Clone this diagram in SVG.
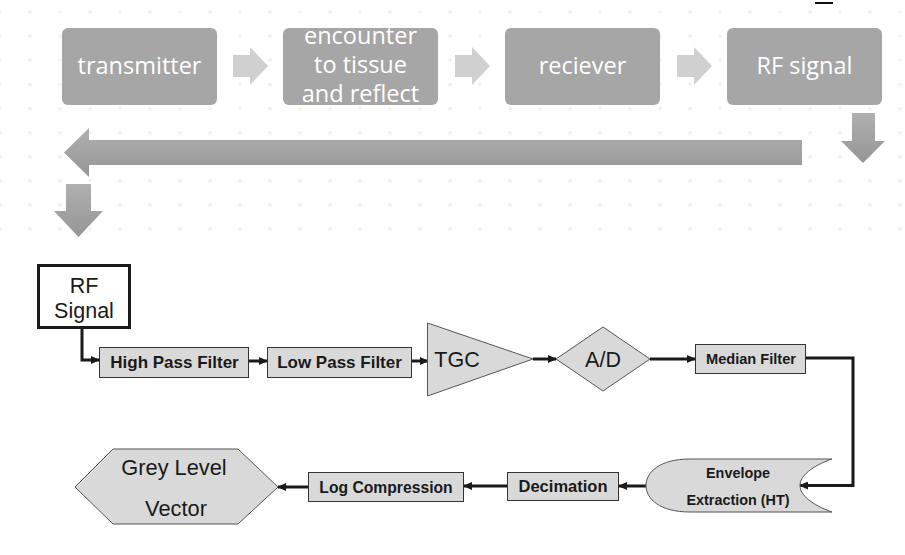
<svg xmlns="http://www.w3.org/2000/svg" width="905" height="555" viewBox="0 0 905 555">
<style>
.tbox{fill:#a6a6a6}
.ttxt{font-family:"Open Sans","Noto Sans",sans-serif;font-size:23.5px;fill:#ffffff;text-anchor:middle}
.chev{fill:#d0d0d0}
.big{fill:url(#gArrow)}
.box{fill:#d9d9d9;stroke:#333;stroke-width:1}
.btxt{font-family:"Liberation Sans",Arial,sans-serif;font-weight:bold;fill:#1a1a1a;text-anchor:middle}
.rtxt{font-family:"Liberation Sans",Arial,sans-serif;fill:#1a1a1a;text-anchor:middle}
.shape{fill:#d9d9d9;stroke:#555;stroke-width:1}
.conn{fill:none;stroke:#1a1a1a;stroke-width:3;marker-end:url(#ah)}
</style>
<defs>
<pattern id="dots" patternUnits="userSpaceOnUse" x="-15" y="0" width="30" height="24.1">
<circle cx="15" cy="12" r="1.8" fill="#f1f1e9"/>
</pattern>
<linearGradient id="gArrow" x1="0" y1="0" x2="0" y2="1">
<stop offset="0" stop-color="#b0b0b0"/>
<stop offset="1" stop-color="#959595"/>
</linearGradient>
<marker id="ah" markerUnits="userSpaceOnUse" markerWidth="9" markerHeight="8" refX="8" refY="4" orient="auto">
<path d="M0,0 L9,4 L0,8 Z" fill="#1a1a1a"/>
</marker>
</defs>
<rect x="0" y="0" width="905" height="555" fill="#ffffff"/>
<rect x="0" y="0" width="905" height="240" fill="url(#dots)"/>
<rect x="815" y="2" width="18" height="2" fill="#111"/>

<g id="top-arrows">
<path class="chev" d="M233,55 H250 V47 L268,66 L250,85 V77 H233 Z"/>
<path class="chev" d="M455,55 H472 V47 L490,66 L472,85 V77 H455 Z"/>
<path class="chev" d="M677,55 H694 V47 L712,66 L694,85 V77 H677 Z"/>
<path class="big" d="M852,113 H875 V141 H885 L863,163 L841,141 H852 Z"/>
<path class="big" d="M802,140 V165 H89 V177 L64,152.5 L89,128 V140 Z"/>
<path class="big" d="M66,184 H91 V211 H103 L78.5,237 L54,211 H66 Z"/>
</g>

<g id="n-transmitter">
<rect class="tbox" x="62" y="28" width="155" height="77" rx="6"/>
<text class="ttxt" x="139.5" y="74">transmitter</text>
</g>
<g id="n-encounter">
<rect class="tbox" x="283" y="28" width="155" height="77" rx="6"/>
<text class="ttxt" x="360.5" y="44" font-size="23">encounter</text>
<text class="ttxt" x="360.5" y="73" font-size="23">to tissue</text>
<text class="ttxt" x="360.5" y="102" font-size="23">and reflect</text>
</g>
<g id="n-reciever">
<rect class="tbox" x="505" y="28" width="155" height="77" rx="6"/>
<text class="ttxt" x="582.5" y="74">reciever</text>
</g>
<g id="n-rfsignal-top">
<rect class="tbox" x="727" y="28" width="155" height="77" rx="6"/>
<text class="ttxt" x="804.5" y="74">RF signal</text>
</g>

<g id="connectors">
<path class="conn" d="M82,329 V360 H99"/>
<path class="conn" d="M249,361 H267"/>
<path class="conn" d="M412,361 H428"/>
<path class="conn" d="M533,359 H556"/>
<path class="conn" d="M650,359 H695"/>
<path class="conn" d="M806,358 H853 V485.5 H800"/>
<path class="conn" d="M646,486 H619"/>
<path class="conn" d="M507,486 H464"/>
<path class="conn" d="M308,487 H278"/>
</g>

<g id="n-rfsignal">
<rect x="38.5" y="265.5" width="91" height="62" fill="#ffffff" stroke="#1a1a1a" stroke-width="3"/>
<text class="rtxt" x="84" y="293" font-size="21.5">RF</text>
<text class="rtxt" x="84" y="318" font-size="21.5">Signal</text>
</g>
<g id="n-hpf">
<rect class="box" x="99.5" y="347.5" width="149" height="30"/>
<text class="btxt" x="174.5" y="368" font-size="17">High Pass Filter</text>
</g>
<g id="n-lpf">
<rect class="box" x="267.5" y="347.5" width="144" height="30"/>
<text class="btxt" x="339.5" y="368" font-size="17">Low Pass Filter</text>
</g>
<g id="n-tgc">
<path class="shape" d="M427.5,323 L533,359 L427.5,396 Z"/>
<text class="rtxt" x="457" y="367" font-size="21.5">TGC</text>
</g>
<g id="n-ad">
<path class="shape" d="M603,327 L650,359 L603,391 L556,359 Z"/>
<text class="rtxt" x="603" y="367" font-size="21.5">A/D</text>
</g>
<g id="n-median">
<rect class="box" x="695.5" y="344.5" width="110" height="29"/>
<text class="btxt" x="751" y="364" font-size="14.6">Median Filter</text>
</g>
<g id="n-envelope">
<path class="shape" d="M832,459 H690 C660,459 646,472 646,485.5 C646,499 660,512 690,512 H832 C812,505 800,495 800,485.5 C800,476 812,466 832,459 Z"/>
<text class="btxt" x="738" y="478" font-size="14.4">Envelope</text>
<text class="btxt" x="738" y="505" font-size="14.4">Extraction (HT)</text>
</g>
<g id="n-decimation">
<rect class="box" x="507.5" y="472.5" width="111" height="28"/>
<text class="btxt" x="563" y="492" font-size="16.5">Decimation</text>
</g>
<g id="n-logcomp">
<rect class="box" x="308.5" y="472.5" width="155" height="29"/>
<text class="btxt" x="386" y="492.5" font-size="15.7">Log Compression</text>
</g>
<g id="n-grey">
<path class="shape" d="M75,487 L113,449 L238,449 L278,487 L238,524 L113,524 Z"/>
<text class="rtxt" x="174" y="475" font-size="21.8">Grey Level</text>
<text class="rtxt" x="176" y="516" font-size="21.8">Vector</text>
</g>
</svg>
